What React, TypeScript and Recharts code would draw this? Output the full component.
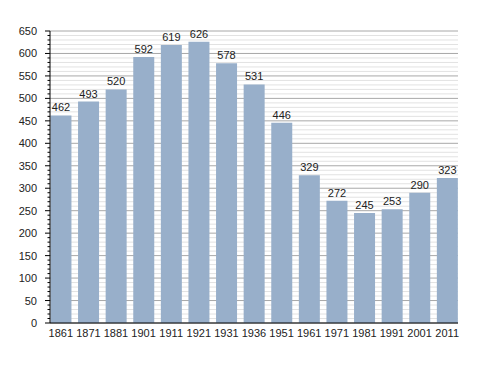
import React from "react";
import {
  BarChart,
  Bar,
  XAxis,
  YAxis,
  CartesianGrid,
  LabelList,
} from "recharts";

const years = [
  "1861", "1871", "1881", "1901", "1911", "1921", "1931", "1936",
  "1951", "1961", "1971", "1981", "1991", "2001", "2011",
];
const population = [
  462, 493, 520, 592, 619, 626, 578, 531, 446, 329, 272, 245, 253, 290, 323,
];
const majorTicks = [
  0, 50, 100, 150, 200, 250, 300, 350, 400, 450, 500, 550, 600, 650,
];
const minorTicks: number[] = [];
for (let v = 0; v <= 650; v += 10) minorTicks.push(v);

const data = years.map((year, i) => ({ year, value: population[i] }));

const FONT = "'Liberation Sans', Arial, sans-serif";

function YTick({ x, y, payload }: any) {
  const major = payload.value % 50 === 0;
  return (
    <g>
      <line
        x1={x - (major ? 5 : 2.5)}
        x2={x}
        y1={y}
        y2={y}
        stroke="#000"
        strokeWidth={1}
      />
      {major && (
        <text
          x={x - 13}
          y={y}
          dy={4}
          textAnchor="end"
          fontSize={11}
          fontFamily={FONT}
          fill="#222"
        >
          {payload.value}
        </text>
      )}
    </g>
  );
}

export default function App() {
  return (
    <div style={{ position: "absolute", left: 0, top: 0 }}>
      <BarChart
        width={488}
        height={373}
        data={data}
        margin={{ top: 31, right: 30, left: 0, bottom: 30 }}
        barCategoryGap="12.5%"
      >
        <CartesianGrid
          vertical={false}
          horizontalValues={minorTicks.filter((v) => v % 50 !== 0)}
          stroke="#e2e2e2"
        />
        <CartesianGrid
          vertical={false}
          horizontalValues={majorTicks}
          stroke="#a8a8a8"
        />
        <XAxis
          dataKey="year"
          tickLine={false}
          axisLine={{ stroke: "#000" }}
          padding={{ left: -3, right: -3 }}
          interval={0}
          tick={{ fontSize: 11, fontFamily: FONT, fill: "#222" }}
          tickMargin={0}
          height={20}
        />
        <YAxis
          width={50}
          domain={[0, 650]}
          ticks={minorTicks}
          interval={0}
          tickSize={0}
          tickMargin={0}
          tickLine={false}
          axisLine={{ stroke: "#000" }}
          tick={<YTick />}
        />
        <Bar dataKey="value" fill="#98afca" isAnimationActive={false}>
          <LabelList
            dataKey="value"
            position="top"
            offset={4}
            fontSize={11}
            fontFamily={FONT}
            fill="#222"
          />
        </Bar>
      </BarChart>
    </div>
  );
}
